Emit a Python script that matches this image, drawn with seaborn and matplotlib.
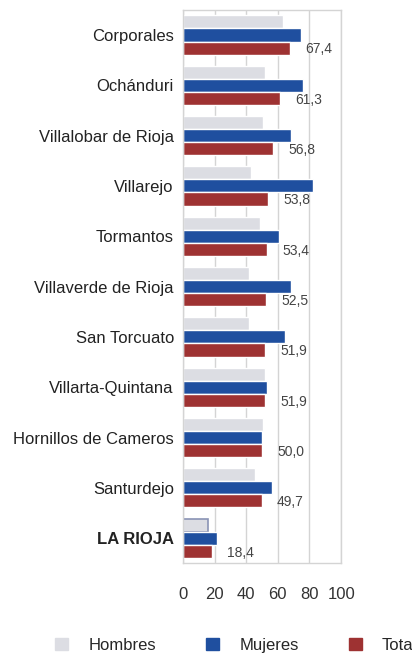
import pandas as pd
import matplotlib.pyplot as plt
import matplotlib.patches as mpatches
import seaborn as sns

# Values (percentages)
municipios = ['Corporales', 'Ochánduri', 'Villalobar de Rioja', 'Villarejo', 'Tormantos',
              'Villaverde de Rioja', 'San Torcuato', 'Villarta-Quintana',
              'Hornillos de Cameros', 'Santurdejo', 'LA RIOJA']
hombres = [63.2, 51.6, 50.3, 43.2, 48.4, 41.5, 41.9, 51.6, 50.5, 45.7, 15.8]
mujeres = [74.5, 75.6, 68.2, 82.5, 61.0, 68.2, 64.6, 53.0, 50.0, 56.4, 21.5]
total = [67.4, 61.3, 56.8, 53.8, 53.4, 52.5, 51.9, 51.9, 50.0, 49.7, 18.4]
x_ticks = [0, 20, 40, 60, 80, 100]

series = ['Hombres', 'Mujeres', 'Total']
colors = {'Hombres': '#dcdde3', 'Mujeres': '#1f4f9f', 'Total': '#9e3232'}

df = pd.DataFrame({'Municipio': municipios, 'Hombres': hombres,
                   'Mujeres': mujeres, 'Total': total})
long_df = df.melt(id_vars='Municipio', var_name='Serie', value_name='Valor')

sns.set_style('white')
plt.rcParams['font.family'] = ['Liberation Sans', 'DejaVu Sans']

fig = plt.figure(figsize=(4.12, 6.55), dpi=100)
ax = fig.add_axes([0.444, 0.140, 0.384, 0.845])

sns.barplot(data=long_df, y='Municipio', x='Valor', hue='Serie',
            hue_order=series, palette=colors, orient='h', width=0.78,
            saturation=1, legend=False, ax=ax)

# outline on the regional Hombres bar
hombres_bars = ax.containers[0]
hombres_bars[-1].set_edgecolor('#8a93b5')
hombres_bars[-1].set_linewidth(1.2)

# Total value labels
for bar, val in zip(ax.containers[2], total):
    ax.annotate(f'{val:.1f}'.replace('.', ','),
                xy=(bar.get_width(), bar.get_y() + bar.get_height() / 2),
                xytext=(11, -1), textcoords='offset points',
                ha='left', va='center', fontsize=10, color='#444444')

ax.set_xlim(0, 100)
ax.set_ylim(len(municipios) - 0.5, -0.5)
ax.set_xticks(x_ticks)
ax.set_xlabel('')
ax.set_ylabel('')
ax.grid(axis='x', color='#d4d4d4', linewidth=1)
ax.set_axisbelow(True)
for sp in ax.spines.values():
    sp.set_color('#d4d4d4')
    sp.set_linewidth(1)
ax.tick_params(axis='x', length=0, pad=17, labelsize=12, labelcolor='#333333')
ax.tick_params(axis='y', length=0, pad=6.5, labelsize=12, labelcolor='#222222')
for lbl in ax.get_yticklabels():
    if lbl.get_text() == 'LA RIOJA':
        lbl.set_fontweight('bold')

handles = [mpatches.Patch(color=colors[s], label=s) for s in series]
fig.legend(handles=handles, loc='center left', bbox_to_anchor=(0.117, 0.015),
           borderaxespad=0, ncol=3, frameon=False, fontsize=12,
           handlelength=0.8, handleheight=0.8, handletextpad=1.2,
           columnspacing=3.0)

fig.savefig('out.png', dpi=100)
